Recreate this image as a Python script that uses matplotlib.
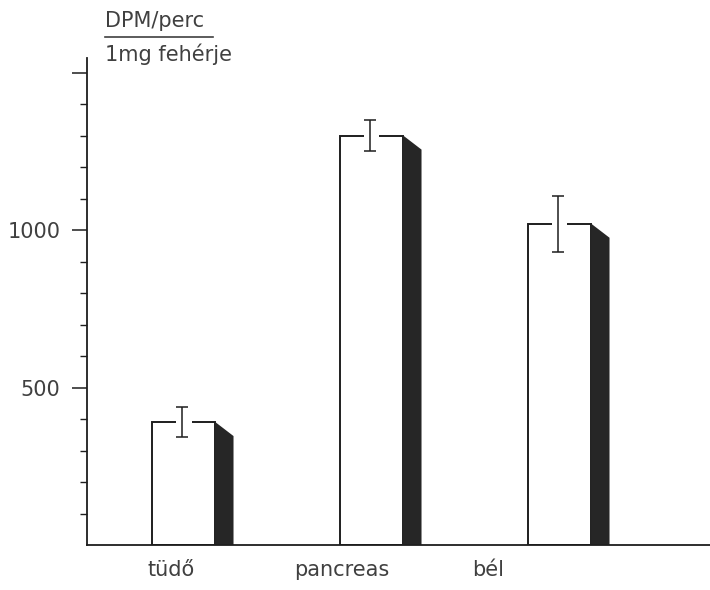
import matplotlib

matplotlib.use("Agg")

import matplotlib.pyplot as plt
import numpy as np

categories = ["tüdő", "pancreas", "bél"]
values = [390, 1300, 1020]
errors = [48, 50, 90]

y_major = [500, 1000, 1500]
y_major_labels = ["500", "1000", ""]
y_minor = list(range(100, 1500, 100))

plt.rcParams["font.family"] = ["DejaVu Sans"]
ink = "#1e1e1e"
text_col = "#404040"

fig = plt.figure(figsize=(7.1, 5.9), dpi=100)
ax = fig.add_axes([0.1225, 0.0763, 0.8775, 0.8254])

x = np.arange(len(categories))
bar_w = 0.335
shade_w = 0.096
drop = 44  # slant of the shadow top, in data units

ax.bar(x, values, width=bar_w, color="white", edgecolor=ink, linewidth=1.4, zorder=2)
for xi, v in zip(x, values):
    right = xi + bar_w / 2
    ax.fill([right, right, right + shade_w, right + shade_w],
            [0, v, v - drop, 0], color="#262626", linewidth=0, zorder=2)
    # small break in the top edge where the error bar passes
    ax.plot([xi - 0.04, xi + 0.04], [v, v], color="white", linewidth=3, zorder=3,
            solid_capstyle="butt")

ax.errorbar(x - 0.01, values, yerr=errors, fmt="none", ecolor=ink,
            elinewidth=1.1, capsize=4.5, capthick=1.1, zorder=4)

ax.set_xlim(-0.516, 2.798)
ax.set_ylim(0, 1547)

ax.spines["top"].set_visible(False)
ax.spines["right"].set_visible(False)
for s in ("left", "bottom"):
    ax.spines[s].set_color(ink)
    ax.spines[s].set_linewidth(1.3)

ax.set_yticks(y_major, y_major_labels)
ax.set_yticks(y_minor, minor=True)
ax.tick_params(axis="y", which="major", length=11, width=1.1, color=ink,
               labelsize=15, labelcolor=text_col, pad=8)
ax.tick_params(axis="y", which="minor", length=5, width=1.0, color=ink)

label_shift = [-0.07, -0.16, -0.38]
ax.set_xticks(x + np.array(label_shift), categories)
ax.tick_params(axis="x", length=0, labelsize=15, labelcolor=text_col, pad=11)

fig.text(0.148, 0.947, "DPM/perc", fontsize=15, color=text_col, ha="left", va="bottom")
fig.add_artist(plt.Line2D([0.148, 0.300], [0.938, 0.938], color=text_col, linewidth=1.2))
fig.text(0.148, 0.927, "1mg fehérje", fontsize=15, color=text_col, ha="left", va="top")

fig.savefig("out.png", dpi=100)
